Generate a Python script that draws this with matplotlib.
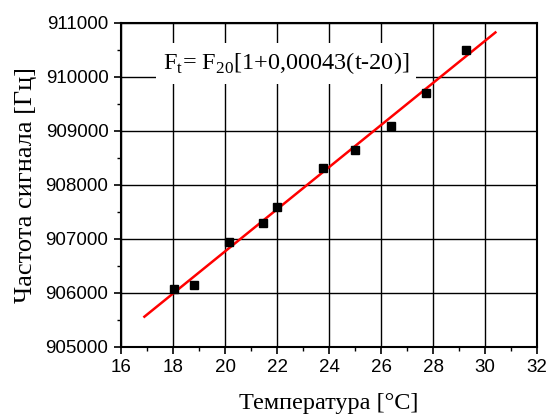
import matplotlib
matplotlib.use("Agg")
import matplotlib.pyplot as plt
from matplotlib.ticker import MultipleLocator
import numpy as np

# measured points
temp = [18.04, 18.81, 20.15, 21.46, 22.0, 23.77, 25.0, 26.38, 27.73, 29.27]
freq = [906074, 906148, 906944, 907296, 907593, 908315, 908648, 909093, 909704, 910500]

# fit: F_t = F_20 [1 + 0.00043 (t - 20)]
F20 = 906770
alpha = 0.00043
fit_t = [16.9, 30.4]

fig = plt.figure(figsize=(5.48, 4.16), dpi=100)
ax = fig.add_axes([121 / 548, 1 - 347 / 416, 416 / 548, 324 / 416])

ax.grid(True, which="major", color="black", lw=1.0, zorder=0)
t = np.array(fit_t)
ax.plot(t, F20 * (1 + alpha * (t - 20)), color="red", lw=1.8, zorder=3)
ax.plot(temp, freq, "s", color="black", ms=5.5, zorder=4)

ax.set_xlim(16, 32)
ax.set_ylim(905000, 911000)
ax.xaxis.set_major_locator(MultipleLocator(2))
ax.xaxis.set_minor_locator(MultipleLocator(1))
ax.yaxis.set_major_locator(MultipleLocator(1000))
ax.yaxis.set_minor_locator(MultipleLocator(500))
ax.tick_params(which="major", direction="out", length=5, width=1.2, labelsize=13.5, pad=4)
ax.tick_params(which="minor", direction="out", length=3, width=1.0)
for lab in ax.get_xticklabels() + ax.get_yticklabels():
    lab.set_family("Liberation Sans")
for s in ax.spines.values():
    s.set_linewidth(1.5)
ax.ticklabel_format(axis="y", style="plain", useOffset=False)

ax.set_xlabel("Температура [°C]", family="Liberation Serif", fontsize=17.5, labelpad=12)
ax.set_ylabel("Частота сигнала [Гц]", family="Liberation Serif", fontsize=19, labelpad=6)

ax.text(0.1, 0.875, r"F$_\mathregular{t}$= F$_\mathregular{20}$[1+0,00043(t-20)]",
        transform=ax.transAxes, family="Liberation Serif", fontsize=17.5,
        va="center", ha="left", zorder=5,
        bbox=dict(facecolor="white", edgecolor="none", pad=5))

fig.savefig("out.png", dpi=100)
